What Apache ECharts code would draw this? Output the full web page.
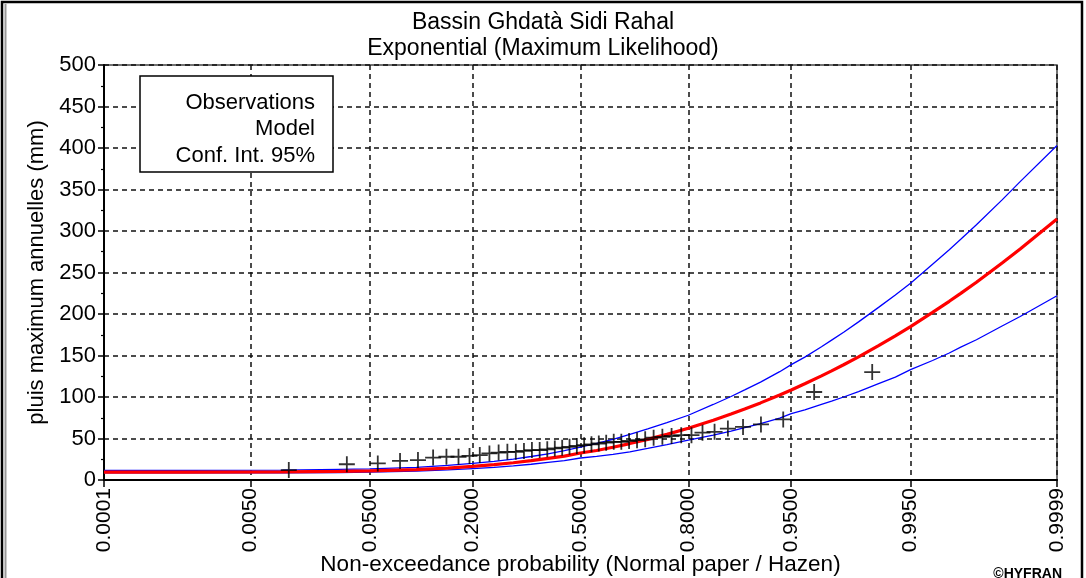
<!DOCTYPE html>
<html><head><meta charset="utf-8">
<script src="https://cdn.jsdelivr.net/npm/echarts@6/dist/echarts.min.js"></script>
<style>html,body{margin:0;padding:0;background:#fff}#c{width:1086px;height:578px}</style>
</head><body><div id="c"></div><script>
// ---------- data ----------
const titleText = 'Bassin Ghdatà Sidi Rahal\nExponential (Maximum Likelihood)';
const xAxisName = 'Non-exceedance probability (Normal paper / Hazen)';
const yAxisName = 'pluis maximum annuelles (mm)';
const xTickLabels = ['0.0001','0.0050','0.0500','0.2000','0.5000','0.8000','0.9500','0.9950','0.9999'];
const legendLabels = ['Observations','Model','Conf. Int. 95%'];

// observations (Hazen plotting positions) and values
const obsProb = [0.0114,0.0341,0.0568,0.0795,0.1023,0.1250,0.1477,0.1705,0.1932,0.2159,0.2386,0.2614,0.2841,0.3068,0.3295,0.3523,0.3750,0.3977,0.4205,0.4432,0.4659,0.4886,0.5114,0.5341,0.5568,0.5795,0.6023,0.6250,0.6477,0.6705,0.6932,0.7159,0.7386,0.7614,0.7841,0.8068,0.8295,0.8523,0.8750,0.8977,0.9205,0.9432,0.9659,0.9886];
const obsValue = [12,19,20,23,24,27,28,28,29,30,32,33,34,34,35,36,36,37,38,39,40,41,42,43,44,45,46,46,47,48,49,51,52,53,54,54,57,58,62,64,67,73,106,130];

// fitted model and 95% confidence bounds
const curveProb  = [0.0001,0.001,0.01,0.03,0.05,0.1,0.15,0.2,0.25,0.3,0.35,0.4,0.45,0.5,0.55,0.6,0.65,0.7,0.75,0.8,0.85,0.88,0.9,0.92,0.94,0.95,0.96,0.97,0.975,0.98,0.985,0.99,0.993,0.995,0.997,0.998,0.9985,0.999,0.9995,0.9997,0.9999];
const modelValue = [9.5,9.5,9.8,10.5,11,12.5,14.4,16.4,18.6,20.8,23.3,26,28.8,32.5,35.5,39.4,43.9,49,55,62.4,72,79.4,85.5,92.9,102.4,108.5,115.9,125.4,131.5,138.9,148.4,161.9,173.7,184.9,201.9,215.3,224.9,238.3,261.4,278.3,314.5];
const upperValue = [11.5,11.5,11.8,12.8,13.4,15.3,17.5,20,22.5,25.2,28.3,31.6,35.3,39.5,44,49,55,61.5,69,78,91,100.6,108.5,118,130.5,139,148,160.5,168.5,178,190.5,208,223,237,260,277.5,290,307.5,337.5,359.5,403];
const lowerValue = [8.5,8.5,8.6,9,9.4,10.7,12.2,13.8,15.3,17,19,21.2,23.3,26.5,28.5,31,34,38,42.5,48,54,59,63,68,74.5,80,84.5,91,95,100,106.5,116,124,133,144,153,160,169,185.5,197,222];

// ---------- normal-probability scale ----------
function probit(p){
  const a=[-39.69683028665376,220.9460984245205,-275.9285104469687,138.3577518672690,-30.66479806614716,2.506628277459239];
  const b=[-54.47609879822406,161.5858368580409,-155.6989798598866,66.80131188771972,-13.28068155288572];
  const c=[-0.007784894002430293,-0.3223964580411365,-2.400758277161838,-2.549732539343734,4.374664141464968,2.938163982698783];
  const d=[0.007784695709041462,0.3224671290700398,2.445134137142996,3.754408661907416];
  const pl=0.02425, ph=1-pl; let q,r;
  if(p<pl){q=Math.sqrt(-2*Math.log(p));return (((((c[0]*q+c[1])*q+c[2])*q+c[3])*q+c[4])*q+c[5])/((((d[0]*q+d[1])*q+d[2])*q+d[3])*q+1);}
  if(p<=ph){q=p-0.5;r=q*q;return (((((a[0]*r+a[1])*r+a[2])*r+a[3])*r+a[4])*r+a[5])*q/(((((b[0]*r+b[1])*r+b[2])*r+b[3])*r+b[4])*r+1);}
  q=Math.sqrt(-2*Math.log(1-p));return -(((((c[0]*q+c[1])*q+c[2])*q+c[3])*q+c[4])*q+c[5])/((((d[0]*q+d[1])*q+d[2])*q+d[3])*q+1);
}
const xTickZ = xTickLabels.map(s=>probit(parseFloat(s)));
function labelFor(v){let best=0,bd=1e9;xTickZ.forEach((z,i)=>{const d=Math.abs(z-v);if(d<bd){bd=d;best=i;}});return xTickLabels[best];}

const FONT = 'Liberation Sans, Arial, sans-serif';
const crossSym = 'path://M-8,0L8,0M0,-8L0,8';
const dash = {color:'#111',type:[5,4],width:1.5};

const chart = echarts.init(document.getElementById('c'), null, {renderer:'canvas'});
chart.setOption({
  animation:false,
  backgroundColor:'#ffffff',
  textStyle:{fontFamily:FONT,color:'#000'},
  title:{text:titleText,left:'center',top:5,textStyle:{fontFamily:FONT,fontSize:23,fontWeight:'normal',lineHeight:26,color:'#000'}},
  grid:{left:104,right:29,top:65,bottom:98,containLabel:false,outerBoundsMode:'none',show:true,borderColor:'#444',borderWidth:1.5,backgroundColor:'transparent'},
  xAxis:{
    type:'value',min:xTickZ[0],max:xTickZ[xTickZ.length-1],
    name:xAxisName,nameLocation:'middle',nameGap:73,nameMoveOverlap:false,
    nameTextStyle:{fontSize:22.5,fontFamily:FONT,color:'#000'},
    axisLine:{show:true,onZero:false,lineStyle:{color:'#000',width:2}},
    axisTick:{show:true,inside:false,length:7,customValues:xTickZ,lineStyle:{color:'#000',width:1.5}},
    axisLabel:{show:true,rotate:90,margin:8,fontSize:21,color:'#000',fontFamily:FONT,customValues:xTickZ,formatter:labelFor},
    splitLine:{show:true,lineStyle:dash}
  },
  yAxis:{
    type:'value',min:0,max:500,interval:50,
    name:yAxisName,nameLocation:'middle',nameGap:56,nameMoveOverlap:false,
    nameTextStyle:{fontSize:22,fontFamily:FONT,color:'#000'},
    axisLine:{show:true,onZero:false,lineStyle:{color:'#000',width:2}},
    axisTick:{show:true,inside:false,length:6,lineStyle:{color:'#000',width:1.5}},
    minorTick:{show:true,splitNumber:2,length:3,lineStyle:{color:'#000',width:1.2}},
    axisLabel:{fontSize:22,color:'#000',margin:8,fontFamily:FONT},
    splitLine:{show:true,lineStyle:dash}
  },
  graphic:[
    {type:'rect',z:-10,shape:{x:2,y:2,width:1080,height:620},style:{fill:'none',stroke:'#000',lineWidth:2.5}},
    {type:'line',z:-10,shape:{x1:5.5,y1:4,x2:5.5,y2:578},style:{stroke:'#999',lineWidth:2}},
    {type:'rect',z:100,shape:{x:140,y:76,width:193,height:96},style:{fill:'#fff',stroke:'#000',lineWidth:1.5}},
    {type:'text',z:101,style:{text:legendLabels[0],x:315,y:103,align:'right',verticalAlign:'middle',font:'22px '+FONT,fill:'#000'}},
    {type:'text',z:101,style:{text:legendLabels[1],x:315,y:129,align:'right',verticalAlign:'middle',font:'22px '+FONT,fill:'#000'}},
    {type:'text',z:101,style:{text:legendLabels[2],x:315,y:156,align:'right',verticalAlign:'middle',font:'22px '+FONT,fill:'#000'}},
    {type:'text',z:101,style:{text:'©HYFRAN',x:1062,y:567,align:'right',verticalAlign:'top',font:'bold 14px '+FONT,fill:'#000'}}
  ],
  series:[
    {name:'upper',type:'line',data:curveProb.map((p,i)=>[probit(p),upperValue[i]]),showSymbol:false,lineStyle:{color:'#0000ff',width:1.3},z:2},
    {name:'lower',type:'line',data:curveProb.map((p,i)=>[probit(p),lowerValue[i]]),showSymbol:false,lineStyle:{color:'#0000ff',width:1.3},z:2},
    {name:'model',type:'line',data:curveProb.map((p,i)=>[probit(p),modelValue[i]]),showSymbol:false,lineStyle:{color:'#ff0000',width:3.2},z:3},
    {name:'obs',type:'scatter',data:obsProb.map((p,i)=>[probit(p),obsValue[i]]),symbol:crossSym,symbolSize:16,itemStyle:{color:'none',borderColor:'#000',borderWidth:1.8},z:4}
  ]
});
</script></body></html>
